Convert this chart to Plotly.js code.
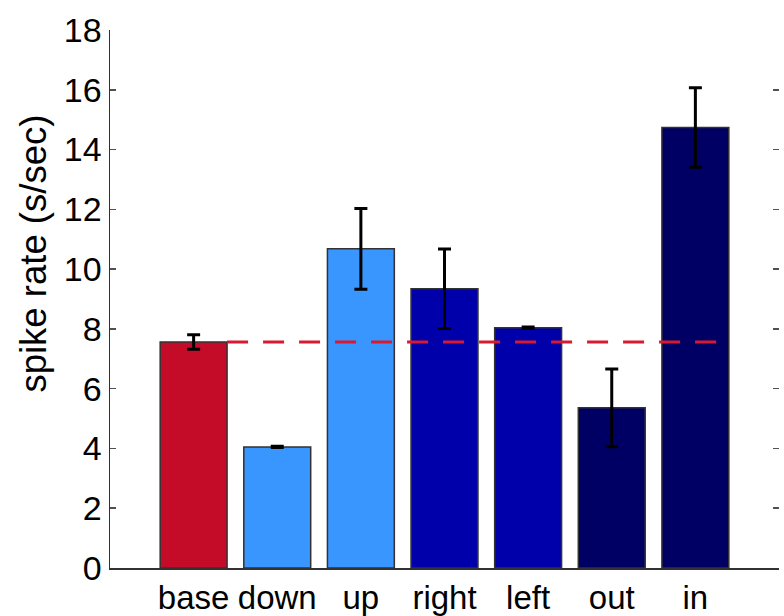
<!DOCTYPE html>
<html>
<head>
<meta charset="utf-8">
<script src="https://cdn.plot.ly/plotly-3.0.1.min.js"></script>
<style>html,body{margin:0;padding:0;background:#fff;}#chart{width:784px;height:616px;}</style>
</head>
<body>
<div id="chart"></div>
<script>
// Data
var categories = ["base", "down", "up", "right", "left", "out", "in"];
var rates = [7.56, 4.05, 10.68, 9.34, 8.04, 5.36, 14.74];
var errors = [0.24, 0.02, 1.35, 1.33, 0.02, 1.3, 1.33];
var yTicks = [0, 2, 4, 6, 8, 10, 12, 14, 16, 18];

// Styles
var barColors = ["rgb(196,12,40)", "rgb(58,150,255)", "rgb(58,150,255)",
                 "rgb(0,0,170)", "rgb(0,0,170)", "rgb(0,0,100)", "rgb(0,0,100)"];
var barWidth = 0.8;
var fontFamily = "Liberation Sans, Arial, Helvetica, sans-serif";

var bars = {
  type: "bar",
  x: categories,
  y: rates,
  width: barWidth,
  marker: {color: barColors, line: {color: "rgb(50,50,50)", width: 1.5}},
  error_y: {type: "data", array: errors, visible: true, color: "#000", thickness: 3, width: 6.5},
  hoverinfo: "x+y"
};

var layout = {
  width: 784, height: 616,
  margin: {l: 110, r: 5, t: 30, b: 48},
  paper_bgcolor: "#fff", plot_bgcolor: "#fff",
  showlegend: false,
  font: {family: fontFamily, color: "#000"},
  xaxis: {
    type: "category",
    range: [-1, categories.length],
    showgrid: false, zeroline: false,
    showline: true, linecolor: "rgb(50,50,50)", linewidth: 1.5,
    ticks: "",
    tickfont: {size: 33, family: fontFamily, color: "#000"}
  },
  yaxis: {
    range: [0, 18],
    tickvals: yTicks,
    ticktext: yTicks.map(String),
    showgrid: false, zeroline: false,
    showline: true, linecolor: "rgb(50,50,50)", linewidth: 1.5,
    ticks: "inside", ticklen: 6, tickwidth: 1.5, tickcolor: "rgb(80,80,80)",
    tickfont: {size: 34, family: fontFamily, color: "#000"}
  },
  yaxis2: {
    overlaying: "y", side: "right", anchor: "x",
    range: [0, 18],
    tickvals: yTicks,
    showticklabels: false,
    showgrid: false, zeroline: false, showline: false,
    ticks: "inside", ticklen: 6, tickwidth: 1.5, tickcolor: "rgb(80,80,80)"
  },
  shapes: [{
    type: "line", layer: "above",
    xref: "x", yref: "y",
    x0: 0 + barWidth / 2, x1: (categories.length - 1) + barWidth / 2,
    y0: rates[0], y1: rates[0],
    line: {color: "rgb(215,25,50)", width: 3, dash: "21px,15px"}
  }],
  annotations: [{
    text: "spike rate (s/sec)",
    xref: "paper", yref: "paper",
    x: -0.114, y: 0.584,
    xanchor: "center", yanchor: "middle",
    textangle: -90, showarrow: false,
    font: {size: 36.5, family: fontFamily, color: "#000"}
  }]
};

var ghost = {type: "scatter", x: [categories[0]], y: [0], yaxis: "y2", mode: "markers",
             marker: {opacity: 0}, hoverinfo: "skip", showlegend: false};

Plotly.newPlot("chart", [bars, ghost], layout, {displayModeBar: false, staticPlot: true});
</script>
</body>
</html>
